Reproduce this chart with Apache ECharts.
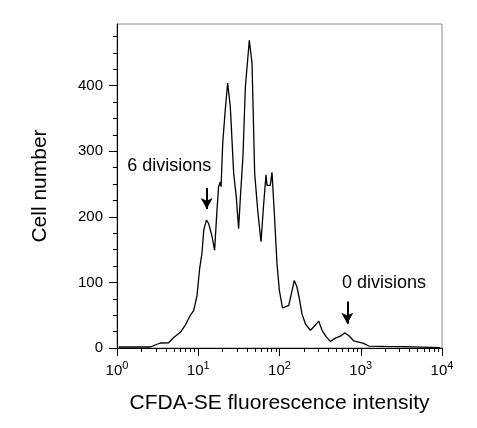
<!DOCTYPE html>
<html>
<head>
<meta charset="utf-8">
<title>CFDA-SE histogram</title>
<script src="https://cdn.jsdelivr.net/npm/echarts@6/dist/echarts.min.js"></script>
<style>
  html, body { margin: 0; padding: 0; background: #fff; }
  #chart { width: 477px; height: 428px; }
</style>
</head>
<body>
<div id="chart"></div>
<script>
// fluorescence intensity (log scale) and cell counts
var intensity = [1.05, 2.57, 2.7, 3.41, 4.32, 4.98, 6.02, 6.93, 8.0, 8.78, 9.66, 10.4, 11.1, 11.7, 12.6,
  13.4, 14.8, 15.9, 17.0, 17.8, 18.7, 19.1, 20.0, 21.5, 23.0, 24.8, 27.3, 29.4, 31.4, 33.0, 35.5, 38.0,
  42.5, 45.9, 49.5, 53.9, 59.2, 63.9, 68.2, 70.2, 77.1, 80.8, 86.4, 93.1, 99.5, 109, 130, 143, 152,
  164, 177, 189, 208, 240, 263, 304, 334, 377, 422, 486, 561, 634, 710, 818, 942, 1086, 1251, 1914,
  3377, 3539, 9530];
var cellCount = [1.5, 1.5, 2.5, 7.6, 8, 16, 24, 35, 50, 57, 80, 121, 144, 180, 195,
  190, 170, 149, 210, 246, 253, 246, 312, 363, 404, 368, 266, 230, 182, 230, 292, 398,
  469, 434, 266, 210, 162, 220, 264, 248, 248, 268, 205, 129, 88, 61, 65, 88, 103,
  93, 73, 52, 37, 27, 32, 41, 27, 17, 10, 15, 18, 23, 19, 11, 9, 7, 3, 2.5,
  2, 0.5, 0.5];

var yTicks = [0, 100, 200, 300, 400];
var yMinorTicks = [25, 50, 75, 125, 150, 175, 225, 250, 275, 325, 350, 375, 425, 450, 475];
var xMajorTicks = [1, 10, 100, 1000, 10000];
var xMinorTicks = [2, 3, 4, 5, 6, 7, 8, 9, 20, 30, 40, 50, 60, 70, 80, 90,
  200, 300, 400, 500, 600, 700, 800, 900, 2000, 3000, 4000, 5000, 6000, 7000, 8000, 9000];

// annotations: label position, arrow x, arrow top and tip
var notes = [
  { text: '6 divisions', x: 1.34, y: 278, ax: 12.7, top: 244, bottom: 212 },
  { text: '0 divisions', x: 588, y: 99, ax: 683, top: 71, bottom: 37 }
];

var font = 'Liberation Sans, Arial, sans-serif';
var chart = echarts.init(document.getElementById('chart'), null, { renderer: 'canvas' });

var option = {
  animation: false,
  backgroundColor: '#fff',
  grid: {
    left: 117, right: 35, top: 24, bottom: 80,
    show: true, borderColor: '#8a8a8a', borderWidth: 1
  },
  xAxis: [{
    type: 'log', logBase: 10, min: 1, max: 10000,
    name: 'CFDA-SE fluorescence intensity',
    nameLocation: 'middle', nameGap: 45,
    nameTextStyle: { fontSize: 21, color: '#000', fontFamily: font },
    axisLine: { lineStyle: { color: '#000', width: 1 } },
    axisTick: { length: 8, customValues: xMajorTicks, lineStyle: { color: '#000' } },
    axisLabel: {
      margin: 12,
      customValues: xMajorTicks,
      formatter: function (v) {
        return '{b|10}{s|' + Math.round(Math.log10(v)) + '}';
      },
      rich: {
        b: { fontSize: 15, color: '#000', fontFamily: font, verticalAlign: 'bottom' },
        s: { fontSize: 11, color: '#000', fontFamily: font, verticalAlign: 'bottom', padding: [0, 0, 7, 0] }
      }
    },
    splitLine: { show: false }
  }, {
    type: 'log', logBase: 10, min: 1, max: 10000, position: 'bottom',
    axisLine: { show: false },
    axisTick: { length: 4, customValues: xMinorTicks, lineStyle: { color: '#000' } },
    axisLabel: { show: false },
    splitLine: { show: false }
  }],
  yAxis: [{
    type: 'value', min: 0, max: 494, interval: 100,
    name: 'Cell number',
    nameLocation: 'middle', nameGap: 66,
    nameTextStyle: { fontSize: 21, color: '#000', fontFamily: font },
    axisLine: { show: true, lineStyle: { color: '#000', width: 1 } },
    axisTick: { show: true, length: 8, customValues: yTicks, lineStyle: { color: '#000' } },
    axisLabel: { margin: 14, customValues: yTicks, fontSize: 15, color: '#000', fontFamily: font },
    splitLine: { show: false }
  }, {
    type: 'value', min: 0, max: 494, position: 'left',
    axisLine: { show: false },
    axisTick: { show: true, length: 4, customValues: yMinorTicks, lineStyle: { color: '#000' } },
    axisLabel: { show: false },
    splitLine: { show: false }
  }],
  series: [{
    type: 'line',
    xAxisIndex: 0, yAxisIndex: 0,
    data: intensity.map(function (v, i) { return [v, cellCount[i]]; }),
    showSymbol: false,
    lineStyle: { color: '#000', width: 1.3 },
    markLine: {
      silent: true,
      symbol: ['none', 'arrow'],
      symbolSize: [9, 11],
      label: { show: false },
      lineStyle: { color: '#000', width: 2, type: 'solid' },
      data: notes.map(function (n) {
        return [{ coord: [n.ax, n.top] }, { coord: [n.ax, n.bottom] }];
      })
    },
    markPoint: {
      silent: true,
      symbol: 'circle', symbolSize: 0,
      label: {
        show: true, position: 'right', distance: 0,
        fontSize: 18, color: '#000', fontFamily: font,
        formatter: function (p) { return p.name; }
      },
      data: notes.map(function (n) {
        return { name: n.text, coord: [n.x, n.y] };
      })
    }
  }]
};

chart.setOption(option);
</script>
</body>
</html>
